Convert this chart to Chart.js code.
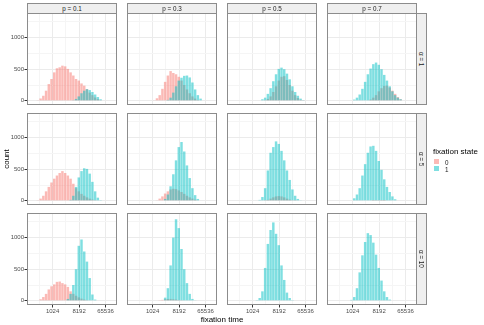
<!DOCTYPE html>
<html>
<head>
<meta charset="utf-8">
<script src="https://cdn.jsdelivr.net/npm/chart.js@4.4.1/dist/chart.umd.min.js"></script>
<style>
  html, body { margin: 0; padding: 0; background: #fff; }
  #fig { position: relative; width: 484px; height: 325px; overflow: hidden;
         font-family: "Liberation Sans", Arial, sans-serif; }
  #fig canvas { position: absolute; }
  .strip { position: absolute; box-sizing: border-box; background: #efefef; border: 1px solid #8c8c8c;
           color: #1a1a1a; font-size: 6.3px; display: flex; align-items: center; justify-content: center; }
  .strip.side span { writing-mode: vertical-rl; }
  .lbl { position: absolute; color: #000; white-space: nowrap; }
  .key { position: absolute; width: 5px; height: 5px; }
</style>
</head>
<body>
<div id="fig"></div>
<script>
// facets
const pLabels = ['p = 0.1', 'p = 0.3', 'p = 0.5', 'p = 0.7'];
const alphaLabels = ['α = 1', 'α = 5', 'α = 10'];

// histogram bin centres on log2(fixation time)
const bins = [7.715, 8.024, 8.333, 8.642, 8.951, 9.260, 9.569, 9.878, 10.187, 10.496,
              10.805, 11.114, 11.423, 11.732, 12.041, 12.350, 12.659, 12.968, 13.277, 13.586,
              13.895, 14.204, 14.513, 14.822, 15.131, 15.440, 15.749, 16.058, 16.367, 16.676];

// counts, fixation state 0 (one list per p)
const state0_alpha1 = [
  [0,0,10,37,80,160,265,345,450,515,530,556,545,505,450,400,345,320,275,240,185,130,90,53,26,10,0,0,0,0],
  [0,0,0,0,0,0,0,0,10,40,90,190,300,400,470,440,420,380,320,250,180,120,70,35,12,0,0,0,0,0],
  [0,0,0,0,0,0,0,0,0,0,0,0,10,30,70,140,230,320,380,390,330,250,160,90,45,15,5,0,0,0],
  [0,0,0,0,0,0,0,0,0,0,0,0,0,0,20,50,90,150,200,235,240,210,160,110,60,25,8,0,0,0]
];
const state0_alpha5 = [
  [0,0,10,35,80,150,220,290,350,400,440,470,440,400,350,270,200,150,110,80,55,35,20,10,0,0,0,0,0,0],
  [0,0,0,0,0,0,0,0,0,10,35,70,115,150,180,190,185,165,140,110,80,55,35,18,8,0,0,0,0,0],
  [0,0,0,0,0,0,0,0,0,0,0,0,5,15,35,55,70,75,70,55,35,20,10,5,0,0,0,0,0,0],
  [0,0,0,0,0,0,0,0,0,0,0,0,0,0,0,3,5,5,3,2,0,0,0,0,0,0,0,0,0,0]
];
const state0_alpha10 = [
  [0,0,0,25,60,110,180,230,260,300,305,280,260,220,150,110,80,55,35,20,10,0,0,0,0,0,0,0,0,0],
  [0,0,0,0,0,0,0,0,0,0,5,15,25,30,30,25,20,12,6,0,0,0,0,0,0,0,0,0,0,0],
  [0,0,0,0,0,0,0,0,0,0,0,0,0,0,0,0,0,0,0,0,0,0,0,0,0,0,0,0,0,0],
  [0,0,0,0,0,0,0,0,0,0,0,0,0,0,0,0,0,0,0,0,0,0,0,0,0,0,0,0,0,0]
];

// counts, fixation state 1
const state1_alpha1 = [
  [0,0,0,0,0,0,0,0,0,0,0,0,0,0,0,10,30,70,120,160,185,170,140,100,60,25,8,0,0,0],
  [0,0,0,0,0,0,0,0,0,0,0,0,0,15,50,130,230,320,365,395,400,370,290,180,90,35,8,0,0,0],
  [0,0,0,0,0,0,0,0,0,0,8,25,50,110,200,310,420,505,525,500,430,340,230,140,80,35,12,0,0,0],
  [0,0,0,0,0,0,0,0,20,50,100,190,300,420,510,580,605,570,500,410,320,230,150,90,50,25,8,0,0,0]
];
const state1_alpha5 = [
  [0,0,0,0,0,0,0,0,0,0,0,0,0,0,15,80,220,370,470,515,505,430,300,150,50,12,0,0,0,0],
  [0,0,0,0,0,0,0,0,0,0,0,0,30,100,230,420,640,850,930,780,560,360,200,90,30,8,0,0,0,0],
  [0,0,0,0,0,0,0,0,0,0,15,60,200,480,760,850,940,900,790,640,480,330,180,80,30,10,0,0,0,0],
  [0,0,0,0,0,0,0,8,40,100,200,400,580,760,860,870,790,630,490,340,220,140,70,25,8,0,0,0,0,0]
];
const state1_alpha10 = [
  [0,0,0,0,0,0,0,0,0,0,0,0,0,30,110,250,500,870,970,780,620,360,100,20,0,0,0,0,0,0],
  [0,0,0,0,0,0,0,0,0,0,0,0,50,200,560,1000,1290,1150,820,500,280,110,30,6,0,0,0,0,0,0],
  [0,0,0,0,0,0,0,0,0,12,45,150,520,900,1120,1240,1060,880,560,330,130,45,12,0,0,0,0,0,0,0],
  [0,0,0,0,0,0,0,15,60,200,450,720,930,1070,1040,920,730,520,320,150,60,20,0,0,0,0,0,0,0,0]
];

// axes
const xMajor = [10, 13, 16];
const xTickLabels = ['1024', '8192', '65536'];
const xMinor = [8.5, 11.5, 14.5];
const yMajor = [0, 500, 1000];
const yMinor = [250, 750, 1250];

const state0 = [state0_alpha1, state0_alpha5, state0_alpha10];
const state1 = [state1_alpha1, state1_alpha5, state1_alpha10];

const pink = 'rgba(248,118,109,0.5)';
const cyan = 'rgba(0,191,196,0.5)';
const colLeft = [27, 127, 227, 327];
const rowTop = [13, 113, 213];
const PW = 90, PH = 92, AXW = 27, AXH = 12;

const fig = document.getElementById('fig');

const panelBorder = {
  id: 'panelBorder',
  afterDraw(chart) {
    const { ctx, chartArea: a } = chart;
    ctx.save();
    ctx.strokeStyle = '#8c8c8c';
    ctx.lineWidth = 1;
    ctx.strokeRect(a.left + 0.5, a.top + 0.5, a.width - 1, a.height - 1);
    ctx.restore();
  }
};

const tickFont = { family: '"Liberation Sans", Arial, sans-serif', size: 6 };

function makePanel(r, c) {
  const cv = document.createElement('canvas');
  cv.width = AXW + PW;
  cv.height = PH + AXH;
  cv.style.left = (colLeft[c] - AXW) + 'px';
  cv.style.top = rowTop[r] + 'px';
  fig.appendChild(cv);
  const showX = r === 2, showY = c === 0;

  new Chart(cv, {
    type: 'bar',
    data: {
      datasets: [
        { label: '1', order: 0, data: bins.map((b, i) => ({ x: b, y: state1[r][c][i] })),
          backgroundColor: cyan, borderWidth: 0, grouped: false,
          barPercentage: 0.9, categoryPercentage: 1 },
        { label: '0', order: 1, data: bins.map((b, i) => ({ x: b, y: state0[r][c][i] })),
          backgroundColor: pink, borderWidth: 0, grouped: false,
          barPercentage: 0.9, categoryPercentage: 1 }
      ]
    },
    options: {
      responsive: false,
      animation: false,
      events: [],
      layout: { padding: 0 },
      plugins: { legend: { display: false }, tooltip: { enabled: false } },
      scales: {
        x: {
          type: 'linear', min: 7.1, max: 17.3, offset: false,
          border: { display: false },
          grid: {
            offset: false, drawTicks: showX, tickLength: 2.5, lineWidth: 1,
            color: ctx => xMajor.includes(ctx.tick.value) ? '#ebebeb' : '#f5f5f5',
            tickColor: ctx => xMajor.includes(ctx.tick.value) ? '#333333' : 'rgba(0,0,0,0)'
          },
          ticks: {
            display: showX, autoSkip: false, maxRotation: 0, padding: 0,
            color: '#4d4d4d', font: tickFont,
            callback: v => { const k = xMajor.indexOf(v); return k >= 0 ? xTickLabels[k] : ''; }
          },
          afterBuildTicks: s => { s.ticks = [...xMinor, ...xMajor].sort((a, b) => a - b).map(v => ({ value: v })); },
          afterFit: s => { s.height = AXH; s.paddingLeft = 0; s.paddingRight = 0; }
        },
        y: {
          min: -66, max: 1389,
          border: { display: false },
          grid: {
            drawTicks: showY, tickLength: 2.5, lineWidth: 1,
            color: ctx => yMajor.includes(ctx.tick.value) ? '#ebebeb' : '#f5f5f5',
            tickColor: ctx => yMajor.includes(ctx.tick.value) ? '#333333' : 'rgba(0,0,0,0)'
          },
          ticks: {
            display: showY, autoSkip: false, padding: 0.5,
            color: '#4d4d4d', font: tickFont,
            callback: v => yMajor.includes(v) ? String(v) : ''
          },
          afterBuildTicks: s => { s.ticks = [...yMajor, ...yMinor].sort((a, b) => a - b).map(v => ({ value: v })); },
          afterFit: s => { s.width = AXW; s.paddingTop = 0; s.paddingBottom = 0; }
        }
      }
    },
    plugins: [panelBorder]
  });
}

for (let r = 0; r < 3; r++) for (let c = 0; c < 4; c++) makePanel(r, c);

// strips
pLabels.forEach((t, c) => {
  const d = document.createElement('div');
  d.className = 'strip';
  d.style.cssText = `left:${colLeft[c]}px;top:3px;width:${PW}px;height:11px;`;
  d.textContent = t;
  fig.appendChild(d);
});
alphaLabels.forEach((t, r) => {
  const d = document.createElement('div');
  d.className = 'strip side';
  d.style.cssText = `left:${colLeft[3] + PW - 1}px;top:${rowTop[r]}px;width:11px;height:${PH}px;`;
  d.innerHTML = `<span>${t}</span>`;
  fig.appendChild(d);
});

// axis titles
function label(text, css) {
  const d = document.createElement('div');
  d.className = 'lbl';
  d.style.cssText = css;
  d.textContent = text;
  fig.appendChild(d);
  return d;
}
label('fixation time', 'left:222px;top:319px;font-size:8px;transform:translate(-50%,-50%);');
label('count', 'left:6px;top:159px;font-size:8px;transform:translate(-50%,-50%) rotate(-90deg);');

// legend
label('fixation state', 'left:433px;top:150.5px;font-size:8px;transform:translateY(-50%);');
[['0', pink, 159], ['1', cyan, 166]].forEach(([t, col, y]) => {
  const k = document.createElement('div');
  k.className = 'key';
  k.style.cssText = `left:434px;top:${y}px;background:${col};`;
  fig.appendChild(k);
  label(t, `left:445px;top:${y + 2.5}px;font-size:6.3px;color:#1a1a1a;transform:translateY(-50%);`);
});
</script>
</body>
</html>
